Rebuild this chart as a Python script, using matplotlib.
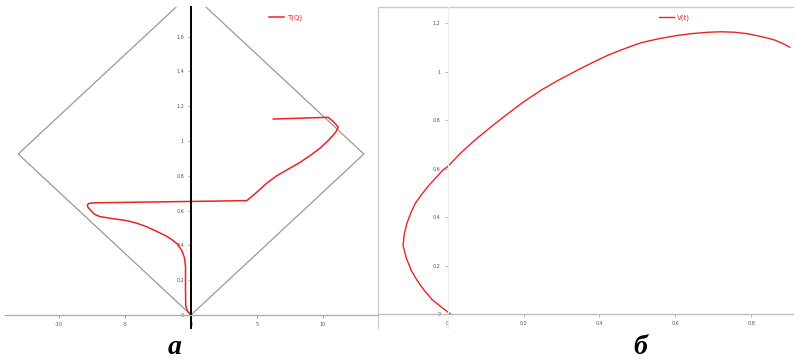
import matplotlib.pyplot as plt

# panel a: T(Q) curve and the light-cone diamond
t_x = [0.0, -0.25, -0.4, -0.42, -0.42, -0.5, -0.7, -1.0, -1.4, -1.84, -2.6,
       -3.36, -4.1, -4.87, -5.9, -6.89, -7.3, -7.6, -7.82, -7.86, -7.75, -7.4,
       -6.89, 4.22, 4.6, 5.2, 5.73, 6.5, 7.25, 8.26, 9.1, 9.77, 10.3, 10.78,
       11.0, 11.16, 10.8, 10.4, 6.23]
t_y = [0.0, 0.02, 0.05, 0.15, 0.28, 0.33, 0.37, 0.405, 0.43, 0.452, 0.48,
       0.507, 0.527, 0.542, 0.553, 0.565, 0.578, 0.6, 0.62, 0.632, 0.641, 0.644,
       0.645, 0.657, 0.68, 0.72, 0.757, 0.8, 0.833, 0.877, 0.92, 0.958, 0.995,
       1.034, 1.055, 1.079, 1.11, 1.136, 1.126]
cone_x = [2.5, -13.1, 0.0, 13.1, -2.5]
cone_y = [2.026, 0.925, 0.0, 0.925, 2.026]
a_xticks = [-10, -5, 0, 5, 10]
a_yticks = [0, 0.2, 0.4, 0.6, 0.8, 1.0, 1.2, 1.4, 1.6]
a_yticklabels = ["0", "0.2", "0.4", "0.6", "0.8", "1", "1.2", "1.4", "1.6"]

# panel b: V(t) curve
v_x = [0.009, -0.016, -0.04, -0.062, -0.08, -0.095, -0.108, -0.117, -0.114,
       -0.107, -0.096, -0.085, -0.07, -0.052, -0.032, -0.012, 0.0, 0.035,
       0.072, 0.115, 0.16, 0.2, 0.247, 0.29, 0.335, 0.38, 0.423, 0.467, 0.51,
       0.555, 0.598, 0.64, 0.686, 0.72, 0.756, 0.79, 0.817, 0.84, 0.861,
       0.882, 0.901]
v_y = [0.0, 0.03, 0.06, 0.1, 0.14, 0.18, 0.23, 0.283, 0.33,
       0.375, 0.42, 0.457, 0.49, 0.526, 0.56, 0.595, 0.608, 0.665,
       0.718, 0.773, 0.828, 0.875, 0.924, 0.963, 1.0, 1.036, 1.068, 1.095,
       1.119, 1.135, 1.147, 1.156, 1.162, 1.164, 1.162, 1.156, 1.147, 1.139,
       1.13, 1.116, 1.1]
b_xticks = [0, 0.2, 0.4, 0.6, 0.8]
b_xticklabels = ["0", "0.2", "0.4", "0.6", "0.8"]
b_yticks = [0, 0.2, 0.4, 0.6, 0.8, 1.0, 1.2]
b_yticklabels = ["0", "0.2", "0.4", "0.6", "0.8", "1", "1.2"]

W, H = 794, 359
fig = plt.figure(figsize=(W / 100, H / 100), dpi=100)


def px_axes(x0, y0, x1, y1):
    return fig.add_axes([x0 / W, 1 - y1 / H, (x1 - x0) / W, (y1 - y0) / H])


tick_font = dict(fontsize=3.5, color="#555555")

# ---- panel a ----
ax = px_axes(5, 7, 378, 328)
ax.plot(cone_x, cone_y, color="#999999", lw=0.9)
ax.plot(t_x, t_y, color="#ee2222", lw=1.1, label="T(Q)")
ax.set_xlim(-14.1, 14.17)
ax.set_ylim(-0.075, 1.77)
for s in ("top", "right"):
    ax.spines[s].set_visible(False)
ax.spines["left"].set_position(("data", 0))
ax.spines["left"].set_color("black")
ax.spines["left"].set_linewidth(1.4)
ax.spines["bottom"].set_position(("data", 0))
ax.spines["bottom"].set_color("#aaaaaa")
ax.spines["bottom"].set_linewidth(0.9)
ax.set_xticks(a_xticks)
ax.set_xticklabels([str(v) for v in a_xticks], **tick_font)
ax.set_yticks(a_yticks)
ax.set_yticklabels(a_yticklabels, **tick_font)
ax.tick_params(axis="both", length=2, width=0.5, pad=3, color="#777777")
leg = ax.legend(loc="upper left", bbox_to_anchor=(0.69, 0.995), frameon=False,
                fontsize=5, handlelength=2.2, handletextpad=0.4)
for txt in leg.get_texts():
    txt.set_color("#ee2222")

# ---- panel b ----
bx = px_axes(378, 7, 794, 328)
bx.plot(v_x, v_y, color="#ee2222", lw=1.0, label="V(t)")
bx.set_xlim(-0.183, 0.912)
bx.set_ylim(-0.056, 1.266)
for s in ("top", "right"):
    bx.spines[s].set_visible(False)
bx.spines["left"].set_position(("data", 0))
bx.spines["left"].set_color("#eeeeee")
bx.spines["left"].set_linewidth(0.8)
bx.spines["bottom"].set_position(("data", 0))
bx.spines["bottom"].set_color("#bbbbbb")
bx.spines["bottom"].set_linewidth(0.9)
bx.set_xticks(b_xticks)
bx.set_xticklabels(b_xticklabels, **tick_font)
bx.set_yticks(b_yticks)
bx.set_yticklabels(b_yticklabels, **tick_font)
bx.tick_params(axis="both", length=2, width=0.5, pad=3, color="#999999")
# outer frame (left and top edges)
bx.plot([0, 0, 1.0], [0, 1, 1], transform=bx.transAxes, color="#cccccc",
        lw=1.0, clip_on=False)
leg = bx.legend(loc="upper left", bbox_to_anchor=(0.66, 0.995), frameon=False,
                fontsize=5, handlelength=2.2, handletextpad=0.4)
for txt in leg.get_texts():
    txt.set_color("#ee2222")

# panel letters
fig.text(175 / W, 1 - 347 / H, "а", fontsize=20, fontweight="bold",
         fontstyle="italic", family="Liberation Serif", ha="center", va="center")
fig.text(640 / W, 1 - 347 / H, "б", fontsize=20, fontweight="bold",
         fontstyle="italic", family="Liberation Serif", ha="center", va="center")

fig.savefig("out.png", dpi=100)
